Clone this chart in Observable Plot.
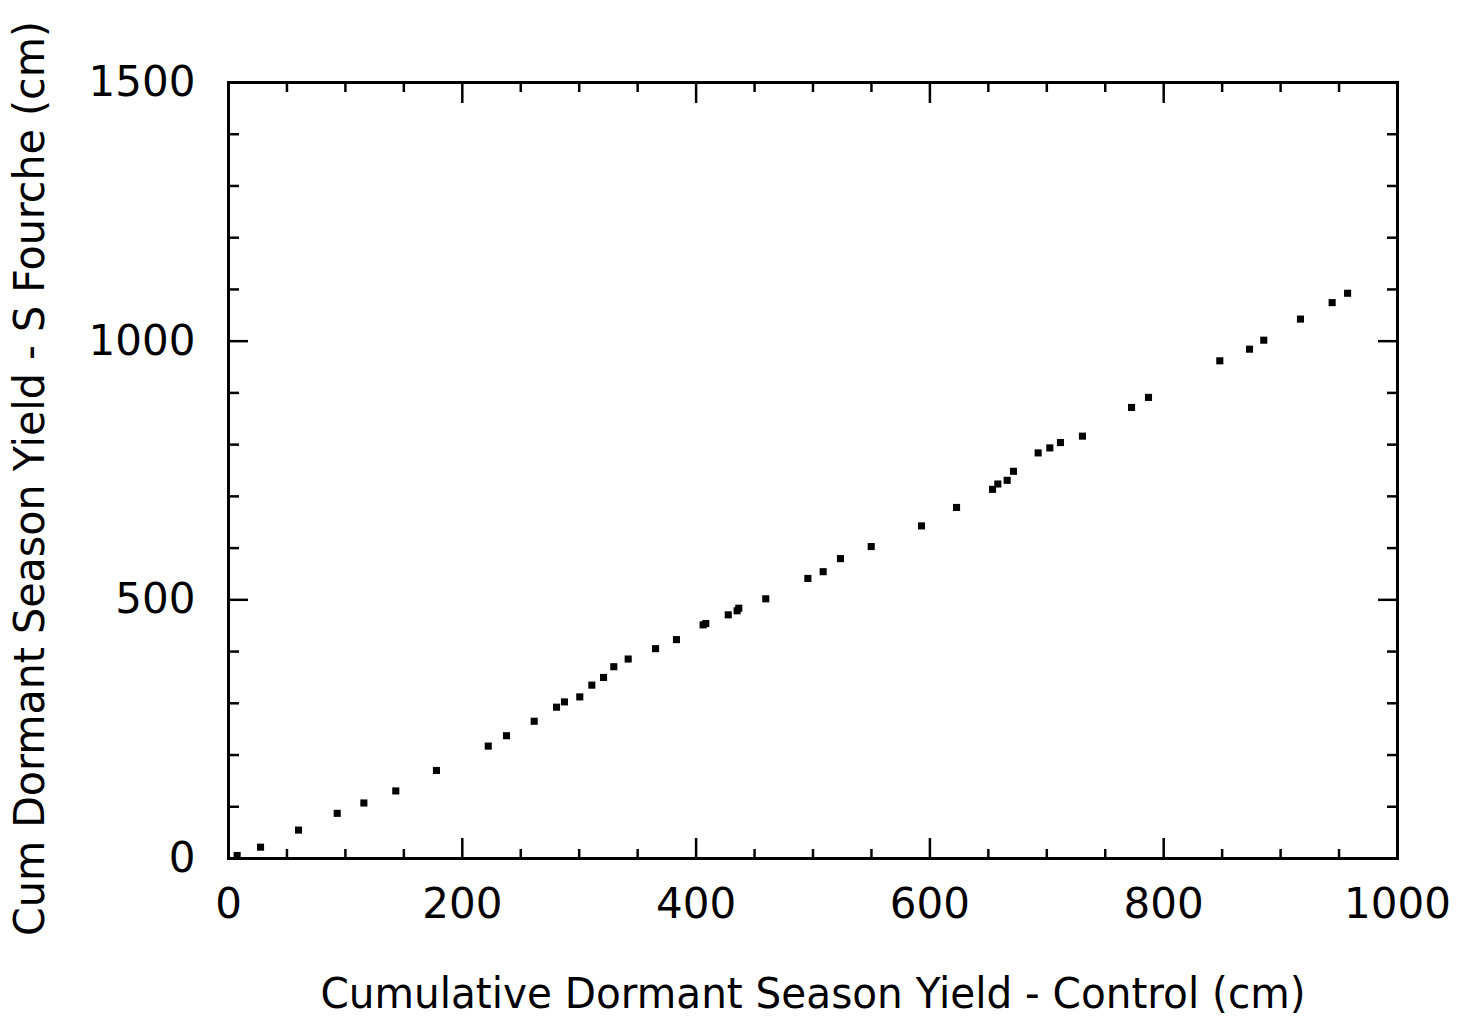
<!DOCTYPE html>
<html>
<head>
<meta charset="utf-8">
<script src="https://cdn.jsdelivr.net/npm/d3@7"></script>
<script src="https://cdn.jsdelivr.net/npm/@observablehq/plot@0.6"></script>
<style>
  html, body { margin: 0; padding: 0; background: #fff; }
  #chart svg { display: block; }
</style>
</head>
<body>
<div id="chart"></div>
<script>
// Cumulative dormant season yield: control watershed (x) vs South Fourche (y), in cm
const controlYield = [
  7.4, 27.4, 59.9, 93.0, 115.8, 143.1, 177.9, 222.2, 237.8, 261.5,
  280.6, 287.4, 300.5, 310.8, 320.8, 329.6, 341.9, 365.3, 383.2, 406.0,
  408.3, 427.5, 435.1, 436.5, 459.6, 495.6, 508.7, 523.5, 549.8, 592.8,
  622.8, 653.6, 658.1, 666.1, 671.5, 692.6, 702.6, 711.7, 730.5, 772.5,
  787.0, 848.0, 873.4, 885.6, 917.0, 944.1, 957.3
];
const fourcheYield = [
  5.8, 21.9, 54.9, 87.3, 107.3, 130.6, 170.2, 217.3, 237.3, 265.3,
  292.5, 302.7, 312.4, 335.1, 349.9, 370.7, 385.6, 405.6, 423.1, 451.6,
  454.1, 471.0, 478.8, 483.8, 502.0, 541.4, 554.4, 579.7, 603.0, 642.9,
  678.6, 713.6, 723.9, 731.0, 748.5, 784.0, 793.7, 804.0, 816.4, 871.9,
  891.3, 962.0, 984.5, 1001.9, 1042.7, 1074.5, 1092.6
];

// Axis tick values
const xMajorTicks = [0, 200, 400, 600, 800, 1000];
const xMinorTicks = [50, 100, 150, 250, 300, 350, 450, 500, 550, 650, 700, 750, 850, 900, 950];
const yMajorTicks = [0, 500, 1000, 1500];
const yMinorTicks = [100, 200, 300, 400, 600, 700, 800, 900, 1100, 1200, 1300, 1400];

const xTitle = "Cumulative Dormant Season Yield - Control (cm)";
const yTitle = "Cum Dormant Season Yield - S Fourche (cm)";

const points = controlYield.map((x, i) => ({x, y: fourcheYield[i]}));

const tickStyle = {strokeWidth: 2.5, label: null};

const chart = Plot.plot({
  width: 1458,
  height: 1017,
  marginLeft: 228,
  marginRight: 61,
  marginTop: 82,
  marginBottom: 159,
  style: {fontFamily: "'DejaVu Sans', sans-serif", fontSize: "42px", color: "#000", background: "#fff"},
  x: {domain: [0, 1000]},
  y: {domain: [0, 1500]},
  marks: [
    // inward minor ticks on all four sides
    Plot.axisX({anchor: "bottom", ticks: xMinorTicks, tickSize: -9, text: null, ...tickStyle}),
    Plot.axisX({anchor: "top", ticks: xMinorTicks, tickSize: -9, text: null, ...tickStyle}),
    Plot.axisY({anchor: "left", ticks: yMinorTicks, tickSize: -11, text: null, ...tickStyle}),
    Plot.axisY({anchor: "right", ticks: yMinorTicks, tickSize: -11, text: null, ...tickStyle}),
    // inward major ticks
    Plot.axisX({anchor: "bottom", ticks: xMajorTicks, tickSize: -20, text: null, ...tickStyle}),
    Plot.axisX({anchor: "top", ticks: xMajorTicks, tickSize: -20, text: null, ...tickStyle}),
    Plot.axisY({anchor: "left", ticks: yMajorTicks, tickSize: -20, text: null, ...tickStyle}),
    Plot.axisY({anchor: "right", ticks: yMajorTicks, tickSize: -20, text: null, ...tickStyle}),
    // tick labels
    Plot.axisX({anchor: "bottom", ticks: xMajorTicks, tickSize: 0, tickPadding: 30, tickFormat: d3.format("d"), label: null, fontSize: 42}),
    Plot.axisY({anchor: "left", ticks: yMajorTicks, tickSize: 0, tickPadding: 33, tickFormat: d3.format("d"), label: null, fontSize: 42}),
    // plot frame
    Plot.frame({stroke: "#000", strokeWidth: 3}),
    // axis titles
    Plot.text([xTitle], {frameAnchor: "bottom", text: d => d, dy: 149, fontSize: 42, className: "x-title"}),
    Plot.text([yTitle], {frameAnchor: "left", textAnchor: "middle", text: d => d, rotate: -90, dx: -198, dy: 8, fontSize: 42, className: "y-title"}),
    // observations
    Plot.dot(points, {x: "x", y: "y", symbol: "square", r: 4, fill: "#000", stroke: "none"})
  ]
});

document.getElementById("chart").appendChild(chart);

// stretch the axis titles to their set widths
d3.select(chart).selectAll(".x-title text").attr("textLength", 985).attr("lengthAdjust", "spacingAndGlyphs");
d3.select(chart).selectAll(".y-title text").attr("textLength", 915).attr("lengthAdjust", "spacingAndGlyphs");
</script>
</body>
</html>
